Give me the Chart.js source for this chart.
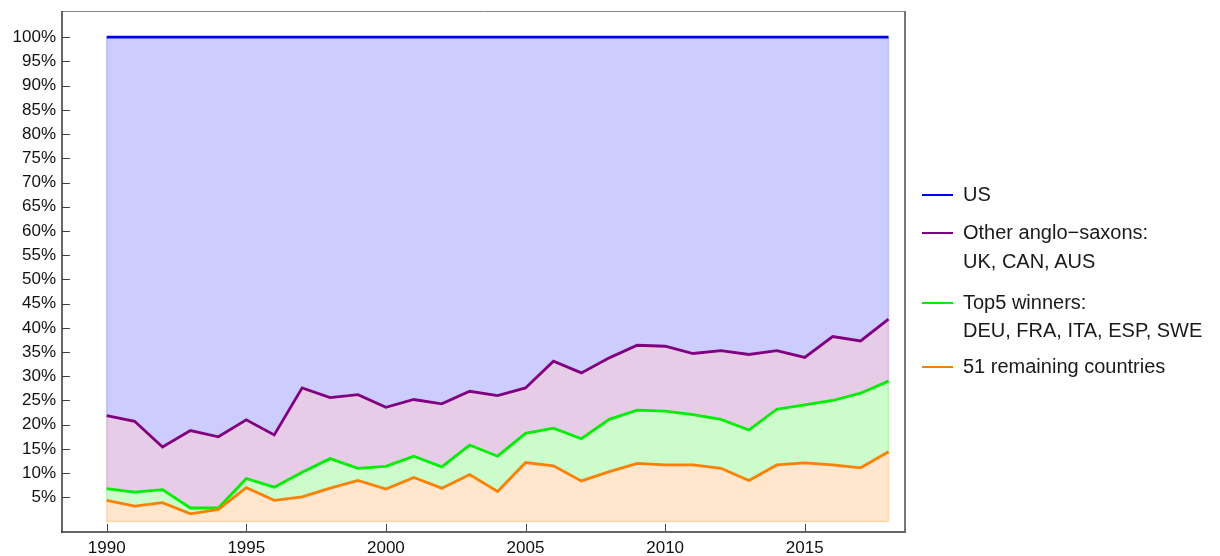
<!DOCTYPE html>
<html><head><meta charset="utf-8">
<script src="https://cdn.jsdelivr.net/npm/chart.js@4"></script>
<style>
html,body{margin:0;padding:0;background:#fff;}
#wrap{position:relative;width:1220px;height:556px;overflow:hidden;}
canvas{position:absolute;left:0;top:0;}
.lg{position:absolute;font-family:"Liberation Sans",Arial,sans-serif;font-size:20px;color:#1a1a1a;white-space:nowrap;line-height:20px;}
.sw{position:absolute;height:2.5px;width:31px;}
</style></head><body>
<div id="wrap"><canvas id="c" width="1220" height="556"></canvas><div id="legend"></div></div>
<script>
const years = [1990,1991,1992,1993,1994,1995,1996,1997,1998,1999,2000,2001,2002,2003,2004,2005,2006,2007,2008,2009,2010,2011,2012,2013,2014,2015,2016,2017,2018];
// cumulative shares (%), bottom to top
const remainingCum = [4.4,3.2,3.9,1.6,2.5,7.0,4.4,5.1,6.9,8.5,6.7,9.1,6.9,9.7,6.2,12.2,11.5,8.4,10.3,12.0,11.7,11.7,11.0,8.5,11.7,12.1,11.7,11.1,14.4];
const top5Cum = [6.8,6.1,6.6,2.8,2.8,8.9,7.1,10.2,13.0,11.0,11.4,13.5,11.3,15.8,13.5,18.2,19.3,17.1,21.1,23.0,22.8,22.1,21.1,18.9,23.2,24.1,25.0,26.5,29.0];
const angloCum = [21.9,20.7,15.4,18.8,17.5,21.0,17.9,27.6,25.6,26.2,23.6,25.2,24.3,26.9,26.0,27.6,33.1,30.7,33.8,36.4,36.2,34.7,35.3,34.5,35.3,33.9,38.2,37.3,41.8];
const usCum = [100,100,100,100,100,100,100,100,100,100,100,100,100,100,100,100,100,100,100,100,100,100,100,100,100,100,100,100,100];
const seriesNames = ["51 remaining countries","Top5 winners: DEU, FRA, ITA, ESP, SWE","Other anglo−saxons: UK, CAN, AUS","US"];
const legendText = [["US"],["Other anglo−saxons:","UK, CAN, AUS"],["Top5 winners:","DEU, FRA, ITA, ESP, SWE"],["51 remaining countries"]];
const xTicks = [1990,1995,2000,2005,2010,2015];
const yTicks = [5,10,15,20,25,30,35,40,45,50,55,60,65,70,75,80,85,90,95,100];

const lineColors = ['#ff8000','#00ee00','#800080','#0000ee'];
const edgeColors = ['rgba(255,128,0,0.25)','rgba(0,220,0,0.25)','rgba(128,0,128,0.2)','rgba(0,0,255,0.2)'];
const fillColors = ['#ffe6cc','#ccfbcc','#e6cce6','#ccccff'];
const series = [remainingCum, top5Cum, angloCum, usCum];

const pts = arr => arr.map((v,i)=>({x:years[i], y:v}));
const datasets = series.map((s,i)=>({
  label: seriesNames[i],
  data: pts(s),
  borderColor: lineColors[i],
  backgroundColor: fillColors[i],
  borderWidth: 2.8,
  pointRadius: 0,
  tension: 0,
  fill: i===0 ? 'origin' : '-1'
}));

const edgePlugin = {
  id:'edges',
  beforeDatasetDraw(chart, args){
    // faint borders of each filled band (drawn before the band's line)
    const i = args.index;
    const {ctx, scales:{x,y}} = chart;
    const upper = series[i], lower = i===0 ? null : series[i-1];
    const n = years.length-1;
    ctx.save();
    ctx.strokeStyle = edgeColors[i]; ctx.lineWidth = 1.5;
    [0,n].forEach(k=>{
      const px = x.getPixelForValue(years[k]);
      ctx.beginPath();
      ctx.moveTo(px, y.getPixelForValue(lower ? lower[k] : 0));
      ctx.lineTo(px, y.getPixelForValue(upper[k]));
      ctx.stroke();
    });
    if (i===0){
      const py = y.getPixelForValue(0);
      ctx.beginPath(); ctx.moveTo(x.getPixelForValue(years[0]), py); ctx.lineTo(x.getPixelForValue(years[n]), py); ctx.stroke();
    }
    ctx.restore();
  }
};

const framePlugin = {
  id:'frame',
  afterDraw(chart){
    const {ctx, chartArea:a, scales:{x,y}} = chart;
    ctx.save();
    ctx.strokeStyle = '#444'; ctx.lineWidth = 1;
    yTicks.forEach(v=>{
      const py = Math.round(y.getPixelForValue(v))+0.5;
      ctx.beginPath(); ctx.moveTo(a.left, py); ctx.lineTo(a.left+8, py); ctx.stroke();
    });
    xTicks.forEach(v=>{
      const px = Math.round(x.getPixelForValue(v))+0.5;
      ctx.beginPath(); ctx.moveTo(px, a.bottom); ctx.lineTo(px, a.bottom-8); ctx.stroke();
    });
    ctx.strokeStyle = '#888'; ctx.lineWidth = 1;
    ctx.beginPath(); ctx.moveTo(a.left, a.top+0.5); ctx.lineTo(a.right, a.top+0.5); ctx.stroke();
    ctx.strokeStyle = '#777'; ctx.lineWidth = 2;
    ctx.beginPath(); ctx.moveTo(a.right, a.top); ctx.lineTo(a.right, a.bottom); ctx.stroke();
    ctx.strokeStyle = '#666'; ctx.lineWidth = 2;
    ctx.beginPath(); ctx.moveTo(a.left-1, a.bottom); ctx.lineTo(a.right+1, a.bottom); ctx.stroke();
    ctx.strokeStyle = '#333'; ctx.lineWidth = 1.5;
    ctx.beginPath(); ctx.moveTo(a.left, a.top); ctx.lineTo(a.left, a.bottom+1); ctx.stroke();
    ctx.restore();
  }
};

new Chart(document.getElementById('c'), {
  type:'line',
  data:{datasets},
  plugins:[edgePlugin, framePlugin],
  options:{
    responsive:false, animation:false,
    layout:{padding:{top:11,right:315,left:0,bottom:0}},
    plugins:{legend:{display:false}, tooltip:{enabled:false}},
    scales:{
      x:{type:'linear', min:1988.40, max:2018.59,
        afterBuildTicks:s=>{s.ticks = xTicks.map(v=>({value:v}));},
        afterFit:s=>{s.height = 24; s.paddingLeft = 0; s.paddingRight = 0;},
        grid:{display:false, drawTicks:false}, border:{display:false},
        ticks:{autoSkip:false, maxRotation:0, padding:6, color:'#111',
          font:{family:'"Liberation Sans", Arial, sans-serif', size:17},
          callback:v=>String(v)}
      },
      y:{type:'linear', min:-2.15, max:105.41,
        afterBuildTicks:s=>{s.ticks = yTicks.map(v=>({value:v}));},
        afterFit:s=>{s.width = 62; s.paddingTop = 0; s.paddingBottom = 0;},
        grid:{display:false, drawTicks:false}, border:{display:false},
        ticks:{autoSkip:false, padding:6, color:'#111',
          font:{family:'"Liberation Sans", Arial, sans-serif', size:17},
          callback:v=>v+'%'}
      }
    }
  }
});

const legendEl = document.getElementById('legend');
const legendCenters = [[195],[233,262],[303,331],[367]];
const legendColorIdx = [3,2,1,0];
legendText.forEach((lines,i)=>{
  const sw = document.createElement('div');
  sw.className='sw';
  sw.style.left='922px';
  sw.style.top=(legendCenters[i][0]-1.25)+'px';
  sw.style.background=lineColors[legendColorIdx[i]];
  legendEl.appendChild(sw);
  lines.forEach((t,j)=>{
    const d=document.createElement('div');
    d.className='lg';
    d.textContent=t;
    d.style.left='963px';
    d.style.top=(legendCenters[i][j]-11)+'px';
    legendEl.appendChild(d);
  });
});
</script>
</body></html>
